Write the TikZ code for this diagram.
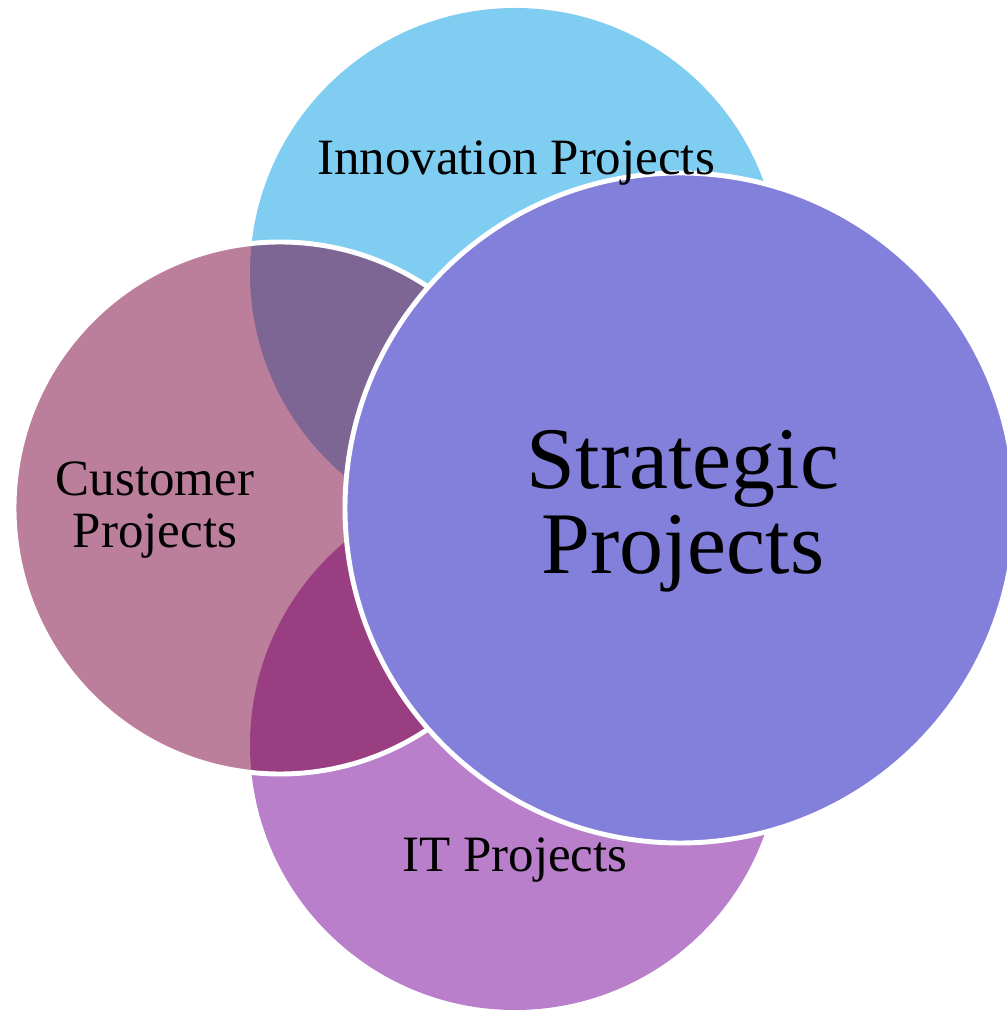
\documentclass[tikz,border=0pt]{standalone}
\usepackage{fontspec}
\setmainfont{Liberation Serif}
\usepackage{tikz}
\usetikzlibrary{positioning}
\definecolor{innovblue}{HTML}{7FCEF2}
\definecolor{custpink}{HTML}{BC7F9B}
\definecolor{itviolet}{HTML}{B97FCB}
\definecolor{stratblue}{HTML}{8380DC}
\definecolor{custinnov}{HTML}{7D6694}
\definecolor{custit}{HTML}{9A3E82}

\begin{document}
\begin{tikzpicture}[x=0.02cm,y=0.02cm,
    ring/.style={draw=white,line width=2.8pt},
    projtext/.style={font=\fontsize{29}{30}\selectfont,align=center},
    bigtext/.style={font=\fontsize{50}{48.4}\selectfont,align=center}]
           \useasboundingbox (0,0) rectangle (1007,1011);
           \coordinate (innov) at (515,738);
           \coordinate (it) at (515,266);
           \coordinate (cust) at (280,503);
           \coordinate (strat) at (680,503);
           \fill[innovblue] (innov) circle (265);
           \fill[itviolet] (it) circle (265);
           \fill[custpink] (cust) circle (266);
           \begin{scope}
            \clip (cust) circle (266);
            \fill[custinnov] (innov) circle (265);
            \fill[custit] (it) circle (265);
           \end{scope}
           \draw[ring] (cust) circle (266);
           \fill[stratblue] (strat) circle (335);
           \draw[ring] (strat) circle (335);
           \node[projtext, anchor=base] (innov_t) at (516,836) {Innovation Projects};
           \node[projtext, anchor=base] (it_t) at (515,139) {IT Projects};
           \node[projtext] (cust_t) at (155,501) {Customer\\Projects};
           \node[bigtext] (strat_t) at (683,500) {Strategic\\Projects};
        \end{tikzpicture}
\end{document}
